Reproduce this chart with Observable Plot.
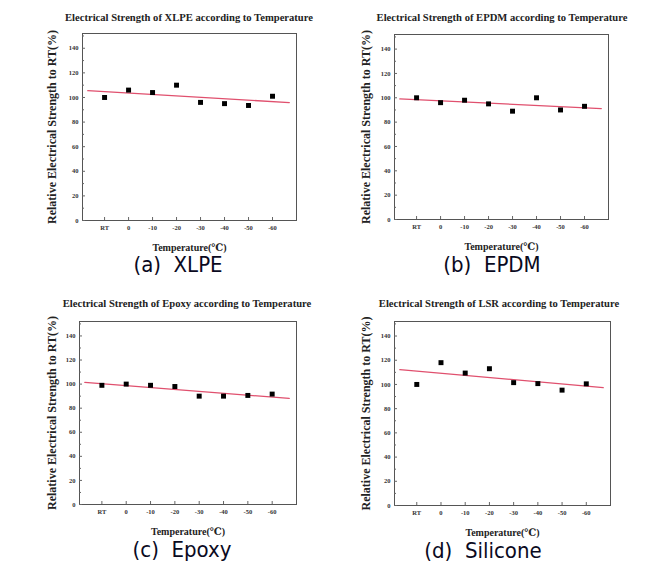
<!DOCTYPE html>
<html>
<head>
<meta charset="utf-8">
<script src="https://cdn.jsdelivr.net/npm/d3@7"></script>
<script src="https://cdn.jsdelivr.net/npm/@observablehq/plot@0.6"></script>
<style>
  html, body { margin: 0; padding: 0; background: #fff; }
  #root { position: relative; width: 669px; height: 567px; overflow: hidden; }
  .title { position: absolute; font-family: "Liberation Serif", "DejaVu Serif", serif; font-weight: bold; font-size: 10.6px; color: #222; white-space: nowrap; transform: translate(-50%, -50%); }
  .caption { position: absolute; font-family: "Liberation Sans Narrow", "DejaVu Sans Condensed", "Liberation Sans", sans-serif; font-size: 22px; color: #0a0a1e; white-space: pre; transform: translate(-50%, -50%); }
  .panel { position: absolute; }
</style>
</head>
<body>
<div id="root"></div>
<script>
const temperatures = ["RT", "0", "-10", "-20", "-30", "-40", "-50", "-60"];
const xlpe    = [100, 106, 104, 110, 96, 95, 93.5, 101];
const epdm    = [100, 96, 98, 95, 89, 100, 90, 93];
const epoxy   = [99, 100, 99, 98, 90, 90, 90.6, 91.7];
const silicone = [100, 118, 109.4, 113, 101.5, 100.7, 95.3, 100.5];
const yTicks = [0, 20, 40, 60, 80, 100, 120, 140];
const yMinorTicks = [10, 30, 50, 70, 90, 110, 130, 150];

const panels = [
  { name: "XLPE", values: xlpe, title: "Electrical Strength of XLPE according to Temperature", caption: "(a)  XLPE",
    left: 0, top: 25, width: 334, height: 230, mL: 82, mT: 8, mR: 38, mB: 35, yLab: 35, titleX: 189, titleY: 17, capX: 178, capY: 264 },
  { name: "EPDM", values: epdm, title: "Electrical Strength of EPDM according to Temperature", caption: "(b)  EPDM",
    left: 335, top: 25, width: 334, height: 230, mL: 59, mT: 9, mR: 61, mB: 36, yLab: 33, titleX: 502, titleY: 17, capX: 492, capY: 264 },
  { name: "Epoxy", values: epoxy, title: "Electrical Strength of Epoxy according to Temperature", caption: "(c)  Epoxy",
    left: 0, top: 310, width: 334, height: 230, mL: 79, mT: 11, mR: 38, mB: 36, yLab: 32, titleX: 187, titleY: 303, capX: 182, capY: 549 },
  { name: "LSR", values: silicone, title: "Electrical Strength of LSR according to Temperature", caption: "(d)  Silicone",
    left: 335, top: 310, width: 334, height: 230, mL: 59, mT: 11, mR: 59, mB: 35, yLab: 33, titleX: 499, titleY: 303, capX: 483, capY: 550 }
];

const root = document.getElementById("root");

for (const p of panels) {
  const data = p.values.map((v, i) => ({ i, t: temperatures[i], v }));
  // least-squares fit, drawn over the data range extended by 10% on each side
  const mx = d3.mean(data, d => d.i), my = d3.mean(data, d => d.v);
  const sxy = d3.sum(data, d => (d.i - mx) * (d.v - my));
  const sxx = d3.sum(data, d => (d.i - mx) ** 2);
  const slope = sxy / sxx, intercept = my - slope * mx;
  const [x0, x1] = d3.extent(data, d => d.i);
  const ext = 0.1 * (x1 - x0);
  const fit = [x0 - ext, x1 + ext].map(x => ({ x, y: intercept + slope * x }));

  const chart = Plot.plot({
    width: p.width,
    height: p.height,
    marginLeft: p.mL, marginTop: p.mT, marginRight: p.mR, marginBottom: p.mB,
    style: { fontFamily: "Liberation Serif, DejaVu Serif, serif", fontWeight: "bold", fontSize: "6.5px", color: "#333", background: "transparent" },
    x: { domain: [-0.92, 8], ticks: d3.range(temperatures.length), tickFormat: i => temperatures[i] },
    y: { domain: [0, 152] },
    marks: [
      Plot.frame({ stroke: "#555", strokeWidth: 1 }),
      Plot.axisX({ ticks: d3.range(temperatures.length), tickFormat: i => temperatures[i], tickSize: -3, tickPadding: 8, stroke: "#666",
        label: "Temperature(℃)", labelAnchor: "center", labelArrow: "none", labelOffset: 30 }),
      Plot.axisY({ ticks: yTicks, tickSize: -3, tickPadding: 7, stroke: "#666",
        label: "Relative Electrical Strength to RT(%)", labelAnchor: "center", labelArrow: "none", labelOffset: p.yLab }),
      Plot.axisY({ ticks: yMinorTicks.filter(t => t < 152), tickSize: -2, tickFormat: () => "", stroke: "#666", label: null }),
      Plot.line(fit, { x: "x", y: "y", stroke: "#e0506e", strokeWidth: 1.3 }),
      Plot.dot(data, { x: "i", y: "v", symbol: "square", r: 2.8, fill: "#000", stroke: "none" })
    ]
  });
  chart.classList.add("panel");
  chart.style.left = p.left + "px";
  chart.style.top = p.top + "px";
  root.appendChild(chart);

  const t = document.createElement("div");
  t.className = "title";
  t.textContent = p.title;
  t.style.left = p.titleX + "px";
  t.style.top = p.titleY + "px";
  root.appendChild(t);

  const c = document.createElement("div");
  c.className = "caption";
  c.textContent = p.caption;
  c.style.left = p.capX + "px";
  c.style.top = p.capY + "px";
  root.appendChild(c);
}

// make the axis titles larger than the tick labels
for (const svg of root.querySelectorAll("svg")) {
  svg.querySelectorAll("g[aria-label='x-axis label'] text").forEach(el => {
    el.style.fontSize = "10px";
    el.style.fill = "#222";
  });
  svg.querySelectorAll("g[aria-label='y-axis label'] text").forEach(el => {
    el.style.fontSize = "12px";
    el.style.fill = "#222";
  });
}
</script>
</body>
</html>
